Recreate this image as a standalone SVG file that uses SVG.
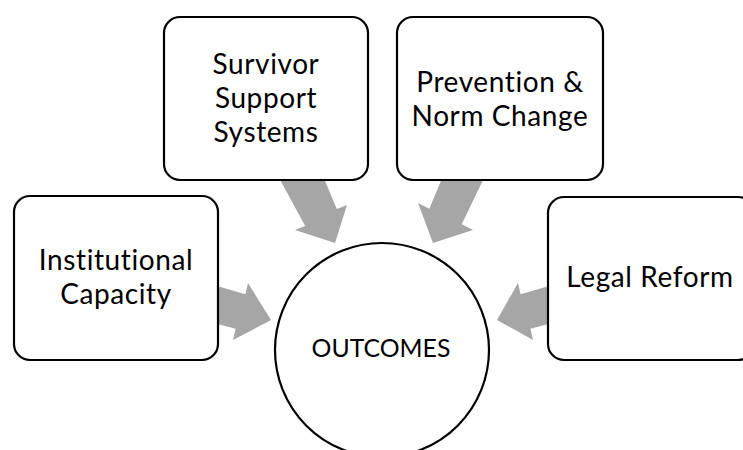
<svg xmlns="http://www.w3.org/2000/svg" width="743" height="450" viewBox="0 0 743 450">
  <style>
    .box { fill: #ffffff; stroke: #000000; stroke-width: 2.2; }
    .arrow { fill: #a6a6a6; stroke: none; }
    .lbl { font-family: Lato, "Open Sans", sans-serif; font-size: 28px; letter-spacing: 0.6px; font-variant-ligatures: none; fill: #000000; text-anchor: middle; }
    .center-lbl { font-size: 24.8px; letter-spacing: 0; }
  </style>

  <g id="connectors">
    <!-- Survivor Support Systems -> OUTCOMES -->
    <polygon class="arrow" points="278,176 323,176 336.8,208.9 347,205 335,243 295,230 305.2,226.1"/>
    <!-- Prevention & Norm Change -> OUTCOMES -->
    <polygon class="arrow" points="485,176 443,176 429.3,208.8 418,203 433,243 473,230 461.7,224.2"/>
    <!-- Institutional Capacity -> OUTCOMES -->
    <polygon class="arrow" points="210,284 245.4,294.2 248,283 271,320 233,340 235.6,328.8 210,322"/>
    <!-- Legal Reform -> OUTCOMES -->
    <polygon class="arrow" points="556,284 520.6,294.2 518,283 497,320 533,340 530.4,328.8 556,322"/>
  </g>

  <g id="node-institutional">
    <rect class="box" x="14" y="196" width="204" height="164" rx="16"/>
    <text class="lbl" x="116" y="270">Institutional</text>
    <text class="lbl" x="116" y="304">Capacity</text>
  </g>

  <g id="node-survivor">
    <rect class="box" x="164" y="17" width="204" height="163" rx="16"/>
    <text class="lbl" x="266" y="74">Survivor</text>
    <text class="lbl" x="266" y="108">Support</text>
    <text class="lbl" x="266" y="142">Systems</text>
  </g>

  <g id="node-prevention">
    <rect class="box" x="397" y="17" width="206" height="163" rx="16"/>
    <text class="lbl" x="500" y="92">Prevention &amp;</text>
    <text class="lbl" x="500" y="126">Norm Change</text>
  </g>

  <g id="node-legal">
    <rect class="box" x="548" y="197" width="206" height="163" rx="16"/>
    <text class="lbl" x="650" y="287">Legal Reform</text>
  </g>

  <g id="node-outcomes">
    <circle class="box" cx="382" cy="350" r="107"/>
    <text class="lbl center-lbl" x="381" y="357">OUTCOMES</text>
  </g>
</svg>
